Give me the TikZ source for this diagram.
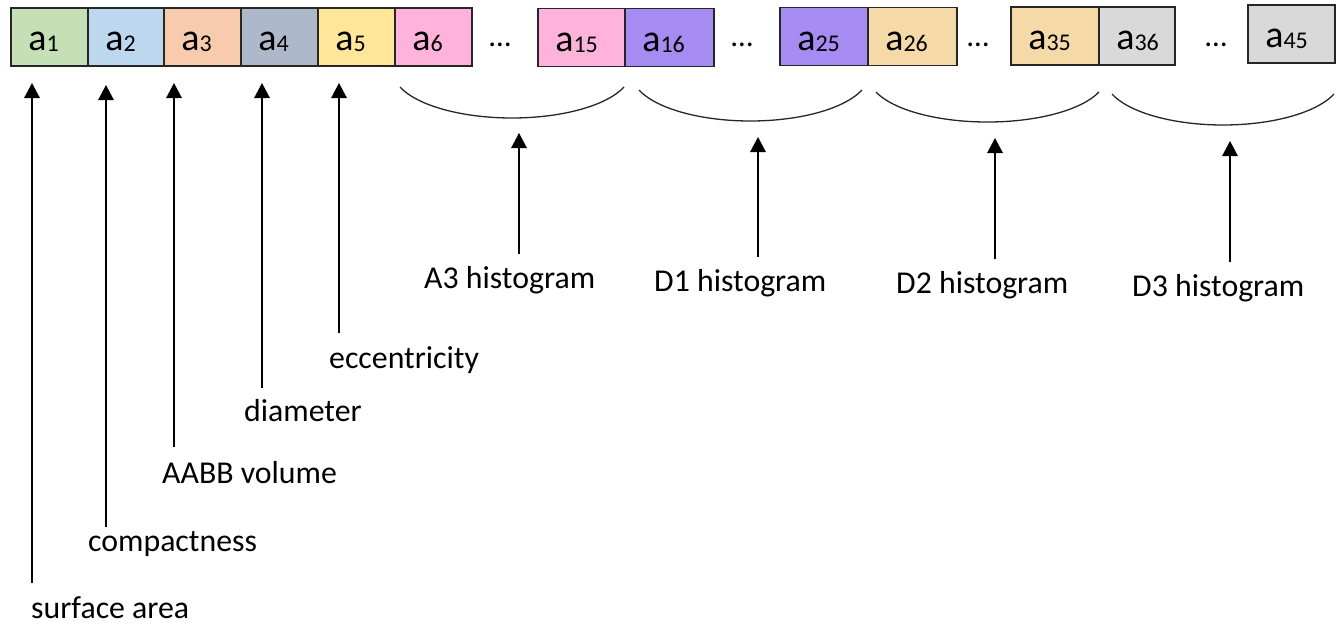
\documentclass[tikz,border=0pt]{standalone}
\usepackage{fontspec}
\setmainfont{Carlito}
\usetikzlibrary{arrows.meta,calc}

\definecolor{cgreen}{HTML}{C5E0B4}
\definecolor{cblue}{HTML}{BDD7EE}
\definecolor{corange}{HTML}{F8CBAD}
\definecolor{cslate}{HTML}{ADB9CA}
\definecolor{cyellow}{HTML}{FFE699}
\definecolor{cpink}{HTML}{FFB3DB}
\definecolor{cpurple}{HTML}{A68CF2}
\definecolor{ctan}{HTML}{F5D9A7}
\definecolor{cgrey}{HTML}{D9D9D9}
\definecolor{edge}{HTML}{262626}

% cell caption: a with a small index
\newcommand\cellname[1]{{\fontsize{38}{40}\selectfont a}{\fontsize{24}{26}\selectfont\raisebox{-1pt}{#1}}}

\tikzset{
  cell/.style={draw=edge, line width=1.8pt, minimum height=58pt, inner sep=0pt},
  celltext/.style={anchor=base west, inner sep=0pt},
  gap/.style={anchor=base, inner sep=0pt, font=\fontsize{31}{36}\selectfont},
  lbl/.style={anchor=base west, inner sep=0pt, font=\fontsize{31.8}{36}\selectfont},
  arr/.style={line width=1.4pt, -{Triangle[width=15.5pt,length=15pt]}},
  brace/.style={line width=1.3pt, draw=black!85}
}

\begin{document}
\begin{tikzpicture}[x=1pt,y=-1pt]
\useasboundingbox (0,0) rectangle (1340,625);

% feature vector cells
\node[cell, fill=cgreen,  minimum width=77pt] (b1)  at (49.5,37)  {};
\node[cell, fill=cblue,   minimum width=76pt] (b2)  at (126,37)   {};
\node[cell, fill=corange, minimum width=77pt] (b3)  at (202.5,37) {};
\node[cell, fill=cslate,  minimum width=77pt] (b4)  at (279.5,37) {};
\node[cell, fill=cyellow, minimum width=77pt] (b5)  at (356.5,37) {};
\node[cell, fill=cpink,   minimum width=77pt] (b6)  at (433.5,37) {};
\node[cell, fill=cpink,   minimum width=87pt] (b15) at (581.5,37.5) {};
\node[cell, fill=cpurple, minimum width=89pt] (b16) at (669.5,37.5) {};
\node[cell, fill=cpurple, minimum width=88pt] (b25) at (824,36.5) {};
\node[cell, fill=ctan,    minimum width=89pt] (b26) at (912.5,36.5) {};
\node[cell, fill=ctan,    minimum width=88pt] (b35) at (1055,36) {};
\node[cell, fill=cgrey,   minimum width=76pt] (b36) at (1137,36) {};
\node[cell, fill=cgrey,   minimum width=87pt] (b45) at (1291.5,34) {};

\foreach \b/\i in {b1/1,b2/2,b3/3,b4/4,b5/5,b6/6,b15/15,b16/16,b25/25,b26/26,b35/35,b36/36,b45/45}
  \node[celltext] (t\b) at ($(\b.south west)+(18,-16)$) {\cellname{\i}};

% elided cells
\node[gap] (g1) at (500,46)  {…};
\node[gap] (g2) at (742,46)  {…};
\node[gap] (g3) at (978,46)  {…};
\node[gap] (g4) at (1216,46) {…};

% histogram groups
\draw[brace] (400,87)   arc[start angle=200, end angle=340, x radius=119.2pt, y radius=47.1pt];
\draw[brace] (639,90)   arc[start angle=200, end angle=340, x radius=118.6pt, y radius=47.1pt];
\draw[brace] (876,92)   arc[start angle=200, end angle=340, x radius=118.6pt, y radius=45.6pt];
\draw[brace] (1112,94)  arc[start angle=200, end angle=340, x radius=118.1pt, y radius=47.1pt];

% labels
\node[lbl] (lsa)  at (31,618)  {surface area};
\node[lbl] (lco)  at (88,551)  {compactness};
\node[lbl] (lab)  at (162,483) {AABB volume};
\node[lbl] (ldi)  at (244,421) {diameter};
\node[lbl] (lec)  at (329,368) {eccentricity};
\node[lbl] (la3)  at (424,288) {A3 histogram};
\node[lbl] (ld1)  at (654,291) {D1 histogram};
\node[lbl] (ld2)  at (896,293) {D2 histogram};
\node[lbl] (ld3)  at (1132,296) {D3 histogram};

% arrow ends
\coordinate (psa) at (32,583);   \coordinate (qsa) at (32,83);
\coordinate (pco) at (106,527);  \coordinate (qco) at (106,85);
\coordinate (pab) at (174,447);  \coordinate (qab) at (174,83);
\coordinate (pdi) at (262,388);  \coordinate (qdi) at (262,83);
\coordinate (pec) at (339,333);  \coordinate (qec) at (339,83);
\coordinate (pa3) at (519,254);  \coordinate (qa3) at (519,133);
\coordinate (pd1) at (758,257);  \coordinate (qd1) at (758,137);
\coordinate (pd2) at (995,259);  \coordinate (qd2) at (995,138);
\coordinate (pd3) at (1230,262); \coordinate (qd3) at (1230,141);

\foreach \k in {sa,co,ab,di,ec,a3,d1,d2,d3}
  \draw[arr] (p\k) -- (q\k);
\end{tikzpicture}
\end{document}
